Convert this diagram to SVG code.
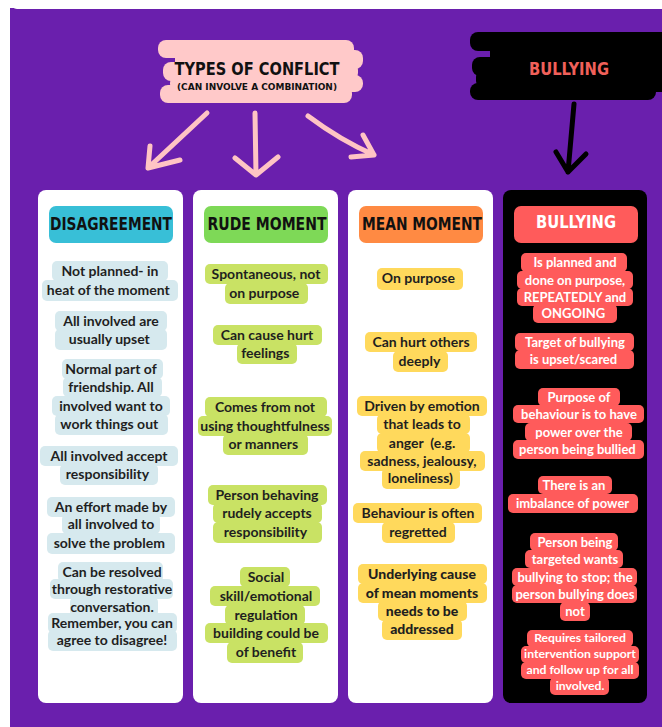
<svg xmlns="http://www.w3.org/2000/svg" width="662" height="727" viewBox="0 0 662 727">
<style>
.card{fill:#ffffff}
.blk{fill:#000000}
.lb{fill:#D6E9EE}
.gr{fill:#C9E264}
.ye{fill:#FFD95C}
.rd{fill:#FF5B5B}
.t{font-family:Lato,"Liberation Sans",sans-serif;font-size:14px;font-weight:700;fill:#1f1f1f;text-anchor:middle}
.tb{font-weight:900}
.tw{font-family:Lato,"Liberation Sans",sans-serif;font-size:13px;font-weight:700;fill:#ffffff;text-anchor:middle}
.ts{font-size:12.2px}
.hd{font-family:"DejaVu Sans Condensed","DejaVu Sans",sans-serif;font-size:17px;font-weight:700;text-anchor:middle}
.pk{fill:none;stroke:#FFC4C4;stroke-width:5;stroke-linecap:round;stroke-linejoin:round}
.bk{fill:none;stroke:#000000;stroke-width:5;stroke-linecap:round;stroke-linejoin:round}
.pb{fill:#FFC9C9}
.kb{fill:#000000}
</style>
<rect width="662" height="727" fill="#ffffff"/>
<rect x="10" y="8" width="652" height="719" fill="#6A1FAD"/>
<rect x="11" y="-12" width="662" height="21" rx="6" fill="#ffffff"/>

<g id="title">
<rect class="pb" x="175" y="48" width="175" height="46"/>
<rect class="pb" x="158" y="40" width="196" height="18" rx="8"/>
<rect class="pb" x="178" y="50" width="185" height="19" rx="8"/>
<rect class="pb" x="163" y="62" width="195" height="19" rx="8"/>
<rect class="pb" x="170" y="75" width="193" height="17" rx="8"/>
<rect class="pb" x="160" y="85" width="192" height="18" rx="8"/>
<text x="257" y="75" class="hd" font-size="18" fill="#111" textLength="165" lengthAdjust="spacingAndGlyphs">TYPES OF CONFLICT</text>
<text x="257" y="90" class="hd" style="font-size:9px" fill="#111" textLength="160" lengthAdjust="spacingAndGlyphs">(CAN INVOLVE A COMBINATION)</text>
</g>

<g id="bullying-title">
<rect class="kb" x="490" y="40" width="180" height="52"/>
<rect class="kb" x="470" y="32" width="200" height="19" rx="8"/>
<rect class="kb" x="497" y="44" width="175" height="20" rx="8"/>
<rect class="kb" x="472" y="57" width="200" height="19" rx="8"/>
<rect class="kb" x="476" y="69" width="196" height="20" rx="8"/>
<rect class="kb" x="470" y="83" width="186" height="17" rx="8"/>
<text x="569" y="75" class="hd" fill="#F0605A" textLength="80" lengthAdjust="spacingAndGlyphs">BULLYING</text>
</g>

<g id="connectors">
<path class="pk" d="M207 113 L148 168 M150 146 L148 168 L180 160"/>
<path class="pk" d="M255 113 L256 175 M235 158 L256 175 L278 157"/>
<path class="pk" d="M308 116 Q340 140 374 155 M363 135 L374 155 L351 157"/>
<path class="bk" d="M574 104 L568 172 M556 152 L568 172 L586 154"/>
</g>

<g id="disagreement">
<rect class="card" x="38" y="190" width="145" height="513" rx="8"/>
<rect x="49" y="206" width="124" height="37" rx="7" fill="#38BFD7"/>
<text x="111" y="230" class="hd" fill="#111" textLength="122" lengthAdjust="spacingAndGlyphs">DISAGREEMENT</text>
<g class="lb">
<rect x="52" y="261" width="116" height="20" rx="5"/><rect x="42" y="280" width="136" height="21" rx="5"/>
<rect x="55" y="311" width="112" height="20" rx="5"/><rect x="55" y="329" width="112" height="21" rx="5"/>
<rect x="62" y="359" width="101" height="20" rx="5"/><rect x="63" y="377" width="99" height="20" rx="5"/><rect x="52" y="396" width="118" height="20" rx="5"/><rect x="55" y="414" width="113" height="21" rx="5"/>
<rect x="40" y="446" width="138" height="20" rx="5"/><rect x="60" y="464" width="98" height="21" rx="5"/>
<rect x="47" y="497" width="128" height="20" rx="5"/><rect x="62" y="514" width="98" height="20" rx="5"/><rect x="47" y="533" width="128" height="21" rx="5"/>
<rect x="58" y="562" width="105" height="20" rx="5"/><rect x="50" y="579" width="123" height="20" rx="5"/><rect x="70" y="597" width="88" height="20" rx="5"/><rect x="48" y="613" width="129" height="20" rx="5"/><rect x="48" y="630" width="129" height="21" rx="5"/>
</g>
<text class="t"><tspan x="110" y="276">Not planned- in</tspan><tspan x="110" y="295">heat of the moment</tspan>
<tspan x="111" y="326">All involved are</tspan><tspan x="111" y="344">usually upset</tspan>
<tspan x="111" y="374">Normal part of</tspan><tspan x="111" y="392">friendship. All</tspan><tspan x="111" y="411">involved want to</tspan><tspan x="111" y="429">work things out</tspan>
<tspan x="109" y="461">All involved accept</tspan><tspan x="109" y="479">responsibility</tspan>
<tspan x="111" y="512">An effort made by</tspan><tspan x="111" y="529">all involved to</tspan><tspan x="111" y="548">solve the problem</tspan>
<tspan x="112" y="577">Can be resolved</tspan><tspan x="112" y="594">through restorative</tspan><tspan x="112" y="612">conversation.</tspan><tspan x="112" y="628">Remember, you can</tspan><tspan x="112" y="645">agree to disagree!</tspan></text>
</g>

<g id="rude-moment">
<rect class="card" x="193" y="190" width="145" height="513" rx="8"/>
<rect x="204" y="206" width="124" height="37" rx="7" fill="#7ED957"/>
<text x="267" y="230" class="hd" fill="#111" textLength="119" lengthAdjust="spacingAndGlyphs">RUDE MOMENT</text>
<g class="gr">
<rect x="205" y="264" width="123" height="20" rx="5"/><rect x="225" y="283" width="83" height="21" rx="5"/>
<rect x="213" y="325" width="109" height="20" rx="5"/><rect x="237" y="343" width="60" height="21" rx="5"/>
<rect x="205" y="397" width="122" height="20" rx="5"/><rect x="198" y="416" width="134" height="20" rx="5"/><rect x="223" y="434" width="85" height="21" rx="5"/>
<rect x="208" y="485" width="119" height="20" rx="5"/><rect x="213" y="503" width="109" height="20" rx="5"/><rect x="213" y="522" width="109" height="21" rx="5"/>
<rect x="240" y="567" width="50" height="20" rx="5"/><rect x="210" y="586" width="110" height="20" rx="5"/><rect x="225" y="605" width="80" height="20" rx="5"/><rect x="205" y="623" width="123" height="20" rx="5"/><rect x="227" y="642" width="76" height="21" rx="5"/>
</g>
<text class="t"><tspan x="266" y="279">Spontaneous, not</tspan><tspan x="266" y="298">on purpose</tspan>
<tspan x="267" y="340">Can cause hurt</tspan><tspan x="267" y="358">feelings</tspan>
<tspan x="265" y="412">Comes from not</tspan><tspan x="265" y="431">using thoughtfulness</tspan><tspan x="265" y="449">or manners</tspan>
<tspan x="267" y="500">Person behaving</tspan><tspan x="267" y="518">rudely accepts</tspan><tspan x="267" y="537">responsibility</tspan>
<tspan x="266" y="582">Social</tspan><tspan x="266" y="601">skill/emotional</tspan><tspan x="266" y="620">regulation</tspan><tspan x="266" y="638">building could be</tspan><tspan x="266" y="657">of benefit</tspan></text>
</g>

<g id="mean-moment">
<rect class="card" x="348" y="190" width="145" height="513" rx="8"/>
<rect x="359" y="206" width="124" height="37" rx="7" fill="#FF8A43"/>
<text x="422" y="230" class="hd" fill="#111" textLength="120" lengthAdjust="spacingAndGlyphs">MEAN MOMENT</text>
<g class="ye">
<rect x="377" y="268" width="86" height="22" rx="5"/>
<rect x="365" y="332" width="112" height="20" rx="5"/><rect x="393" y="351" width="55" height="21" rx="5"/>
<rect x="357" y="396" width="130" height="20" rx="5"/><rect x="377" y="414" width="93" height="20" rx="5"/><rect x="377" y="433" width="93" height="20" rx="5"/><rect x="360" y="451" width="125" height="20" rx="5"/><rect x="382" y="468" width="78" height="21" rx="5"/>
<rect x="353" y="503" width="129" height="20" rx="5"/><rect x="382" y="522" width="73" height="21" rx="5"/>
<rect x="358" y="564" width="129" height="20" rx="5"/><rect x="358" y="583" width="129" height="20" rx="5"/><rect x="378" y="601" width="89" height="20" rx="5"/><rect x="382" y="619" width="80" height="21" rx="5"/>
</g>
<text class="t"><tspan x="420" y="283">On purpose</tspan>
<tspan x="421" y="347">Can hurt others</tspan><tspan x="421" y="366">deeply</tspan>
<tspan x="422" y="411">Driven by emotion</tspan><tspan x="422" y="429">that leads to</tspan><tspan x="422" y="448">anger&#160; (e.g.</tspan><tspan x="422" y="466">sadness, jealousy,</tspan><tspan x="422" y="483">loneliness)</tspan>
<tspan x="418" y="518">Behaviour is often</tspan><tspan x="418" y="537">regretted</tspan></text>
<text class="t tb"><tspan x="422" y="579">Underlying cause</tspan><tspan x="422" y="598">of mean moments</tspan><tspan x="422" y="616">needs to be</tspan><tspan x="422" y="634">addressed</tspan></text>
</g>

<g id="bullying">
<rect class="blk" x="503" y="190" width="144" height="513" rx="8"/>
<rect x="514" y="206" width="124" height="37" rx="7" fill="#FF5B5B"/>
<text x="576" y="228" class="hd" fill="#fff" textLength="80" lengthAdjust="spacingAndGlyphs">BULLYING</text>
<g class="rd">
<rect x="521" y="253" width="106" height="19" rx="5"/><rect x="517" y="271" width="116" height="18" rx="5"/><rect x="517" y="288" width="116" height="18" rx="5"/><rect x="533" y="304" width="84" height="19" rx="5"/>
<rect x="515" y="333" width="119" height="18" rx="5"/><rect x="515" y="350" width="119" height="19" rx="5"/>
<rect x="538" y="388" width="82" height="18" rx="5"/><rect x="513" y="405" width="131" height="18" rx="5"/><rect x="525" y="423" width="107" height="18" rx="5"/><rect x="513" y="440" width="131" height="19" rx="5"/>
<rect x="538" y="476" width="74" height="18" rx="5"/><rect x="508" y="494" width="130" height="19" rx="5"/>
<rect x="530" y="533" width="88" height="18" rx="5"/><rect x="525" y="550" width="98" height="18" rx="5"/><rect x="512" y="568" width="125" height="18" rx="5"/><rect x="512" y="585" width="125" height="18" rx="5"/><rect x="560" y="602" width="30" height="19" rx="5"/>
<rect x="527" y="630" width="106" height="17" rx="5"/><rect x="521" y="646" width="118" height="17" rx="5"/><rect x="521" y="662" width="118" height="17" rx="5"/><rect x="550" y="677" width="59" height="18" rx="5"/>
</g>
<text class="tw"><tspan x="575" y="267">Is planned and</tspan><tspan x="575" y="285">done on purpose,</tspan><tspan x="575" y="302">REPEATEDLY and</tspan><tspan x="575" y="318">ONGOING</tspan>
<tspan x="575" y="347">Target of bullying</tspan><tspan x="575" y="364">is upset/scared</tspan>
<tspan x="579" y="402">Purpose of</tspan><tspan x="579" y="419">behaviour is to have</tspan><tspan x="579" y="437">power over the</tspan><tspan x="579" y="454">person being bullied</tspan>
<tspan x="574" y="490">There is an</tspan><tspan x="574" y="508">imbalance of power</tspan>
<tspan x="575" y="547">Person being</tspan><tspan x="575" y="564">targeted wants</tspan><tspan x="575" y="582">bullying to stop; the</tspan><tspan x="575" y="599">person bullying does</tspan><tspan x="575" y="616">not</tspan></text>
<text class="tw ts"><tspan x="580" y="642">Requires tailored</tspan><tspan x="580" y="658">intervention support</tspan><tspan x="580" y="674">and follow up for all</tspan><tspan x="580" y="690">involved.</tspan></text>
</g>
</svg>
